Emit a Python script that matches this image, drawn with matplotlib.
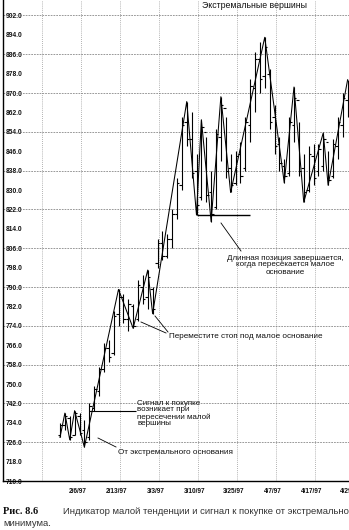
import matplotlib
matplotlib.use("Agg")
import matplotlib.pyplot as plt
from matplotlib.ticker import FixedLocator

# ---------------- data (daily OHLC) ----------------
highs = [734, 738, 737, 739, 738, 735, 742, 749, 757, 767,
         768, 780, 789, 787, 785, 783, 793, 795, 797, 790,
         810, 813, 812, 822, 835, 860, 866.5, 862, 845, 859,
         852, 838, 855, 868.5, 860, 845, 846, 850, 860, 876,
         887, 891, 893, 880, 865, 852, 843, 860, 872.5, 858,
         845, 848, 849, 849, 853.6, 846, 851, 860, 870, 875.5]
lows = [728, 731, 727, 729, 729, 724, 727, 739, 745, 755,
        759, 762, 774, 775, 772, 773, 776, 783, 781, 779,
        798, 801, 802, 806, 818, 830, 848, 835, 819.7, 826,
        825, 817, 822, 842, 835, 829, 832, 833, 838, 850,
        862, 870, 872, 855, 845, 838, 833, 836, 850, 836,
        825, 829, 832, 836, 838, 832, 835, 843, 852, 860]
opens = [729, 733, 736, 729, 737, 731, 728, 740, 747, 756,
         765, 763, 779, 786, 777, 782, 777, 790, 786, 789,
         800, 808, 803, 810, 820, 832, 858, 851, 838, 827,
         854, 829, 823, 852, 864, 839, 833, 845, 839, 857,
         872, 884, 877, 878, 860, 849, 840, 837, 857, 867,
         839, 830, 844, 838, 840, 850, 836, 848, 857, 867]
closes = [733, 737, 728, 738, 730, 726, 741, 748, 756, 765,
          761, 778, 786, 777, 783, 774, 791, 785, 794, 781,
          808, 803, 810, 820, 833, 857, 851, 837, 824, 856,
          828, 820, 853, 865, 838, 832, 844, 836, 858, 873,
          884, 876, 889, 858, 848, 841, 836, 858, 868, 838,
          829, 845, 835, 847, 851, 834, 849, 858, 868, 874]

# minor-trend swing points (bar index, H = high / L = low)
pivot_idx = [0, 1, 2, 3, 5, 12, 15, 18, 19, 26, 28, 29, 31, 33, 35, 42,
             46, 48, 50, 54, 55, 59]
pivot_kind = "LHLHLHLHLHLHLHLHLHLHLH"

date_labels = ["2/6/97", "2/13/97", "3/3/97", "3/10/97", "3/25/97",
               "4/7/97", "4/17/97", "4/29/97"]
price_ticks = list(range(710, 903, 8))

# ---------------- layout helpers ----------------
W, H = 349, 530
X0, DX = 60.0, 4.875          # pixel of bar 0, pixels per bar
Y_BOT, PPU = 481.0, 2.4245    # pixel of 710, pixels per price unit


def px2x(px):
    return (px - X0) / DX


def py2y(py):
    return 710 + (Y_BOT - py) / PPU


fig = plt.figure(figsize=(W / 100, H / 100), dpi=100)
fig.patch.set_facecolor("white")
ax = fig.add_axes([3 / W, (H - Y_BOT) / H, 357 / W, Y_BOT / H])
ax.set_xlim(px2x(3), px2x(360))
ax.set_ylim(710, py2y(0))

n = len(highs)
xs = list(range(n))
ax.vlines(xs, lows, highs, color="black", lw=0.8, zorder=3)
ax.hlines(opens, [x - 0.5 for x in xs], xs, color="black", lw=0.8, zorder=3)
ax.hlines(closes, xs, [x + 0.5 for x in xs], color="black", lw=0.8, zorder=3)

zz_y = [highs[i] if k == "H" else lows[i] for i, k in zip(pivot_idx, pivot_kind)]
ax.plot(pivot_idx, zz_y, color="black", lw=0.75, zorder=3)

# ---------------- axes / grid ----------------
for s in ("top", "right"):
    ax.spines[s].set_visible(False)
for s in ("left", "bottom"):
    ax.spines[s].set_color("black")
    ax.spines[s].set_linewidth(1.0)

grid_pos = [-3.6 + 8 * k for k in range(9)]
label_pos = [g - 0.8 for g in grid_pos[1:]]
ax.set_xticks(label_pos, date_labels, fontsize=4.7, fontweight="bold",
              family="Liberation Sans", color="#111")
ax.xaxis.set_minor_locator(FixedLocator(grid_pos))
ax.tick_params(axis="x", which="both", length=0, pad=5)
ax.grid(True, axis="x", which="minor", color="#999999", ls=(0, (1, 1.5)), lw=0.6)

ax.set_yticks(price_ticks, [f"{v:.1f}" for v in price_ticks], fontsize=4.8,
              fontweight="bold", family="Liberation Sans", color="#111", ha="left",
              bbox=dict(facecolor="white", edgecolor="none", pad=0.6))
ax.yaxis.remove_overlapping_locs = False
ax.yaxis.set_minor_locator(FixedLocator(price_ticks[2::2]))
ax.tick_params(axis="y", which="both", length=0, pad=-2.2)
ax.grid(True, axis="y", which="minor", color="#707070", ls=(0, (2.5, 1.5)), lw=0.5)
ax.set_axisbelow("line")


# ---------------- annotations ----------------
def ft(px, py, s, **kw):
    kw.setdefault("family", "Liberation Sans")
    kw.setdefault("color", "#111")
    fig.text(px / W, 1 - py / H, s, **kw)


def lead(p1, p2, lw=0.6):
    ax.plot([px2x(p1[0]), px2x(p2[0])], [py2y(p1[1]), py2y(p2[1])],
            color="black", lw=lw, zorder=3)


ft(254, 6, "Экстремальные вершины", ha="center", va="center", fontsize=6.3)
ft(285, 265, "Длинная позиция завершается,\nкогда пересекается малое\nоснование",
   ha="center", va="center", fontsize=5.8, linespacing=1.0)
ft(169, 337, "Переместите стоп под малое основание", ha="left", va="center",
   fontsize=5.9)
ft(137, 413.5, "Сигнал к покупке\nвозникает при\nпересечении малой\nвершины",
   ha="left", va="center", fontsize=5.8, linespacing=0.95)
ft(118, 452, "От экстремального основания", ha="left", va="center", fontsize=5.9)

ax.hlines(highs[3], 6, px2x(136), color="black", lw=0.8, zorder=3)
ax.hlines(lows[28], 28, px2x(250), color="black", lw=1.0, zorder=3)
lead((98, 438), (116, 447))
lead((141, 322), (166, 333))
lead((155, 316), (168, 332))
lead((221, 223), (241, 251))

# caption
ft(3, 512, "Рис. 8.6", ha="left", va="center", fontsize=7.5, fontweight="bold",
   family="Liberation Serif")
ft(63, 512, "Индикатор малой тенденции и сигнал к покупке от экстремального",
   ha="left", va="center", fontsize=6.8, color="#333")
ft(3, 524, "минимума.", ha="left", va="center", fontsize=6.8, color="#333")

fig.savefig("out.png", dpi=100, facecolor="white")
